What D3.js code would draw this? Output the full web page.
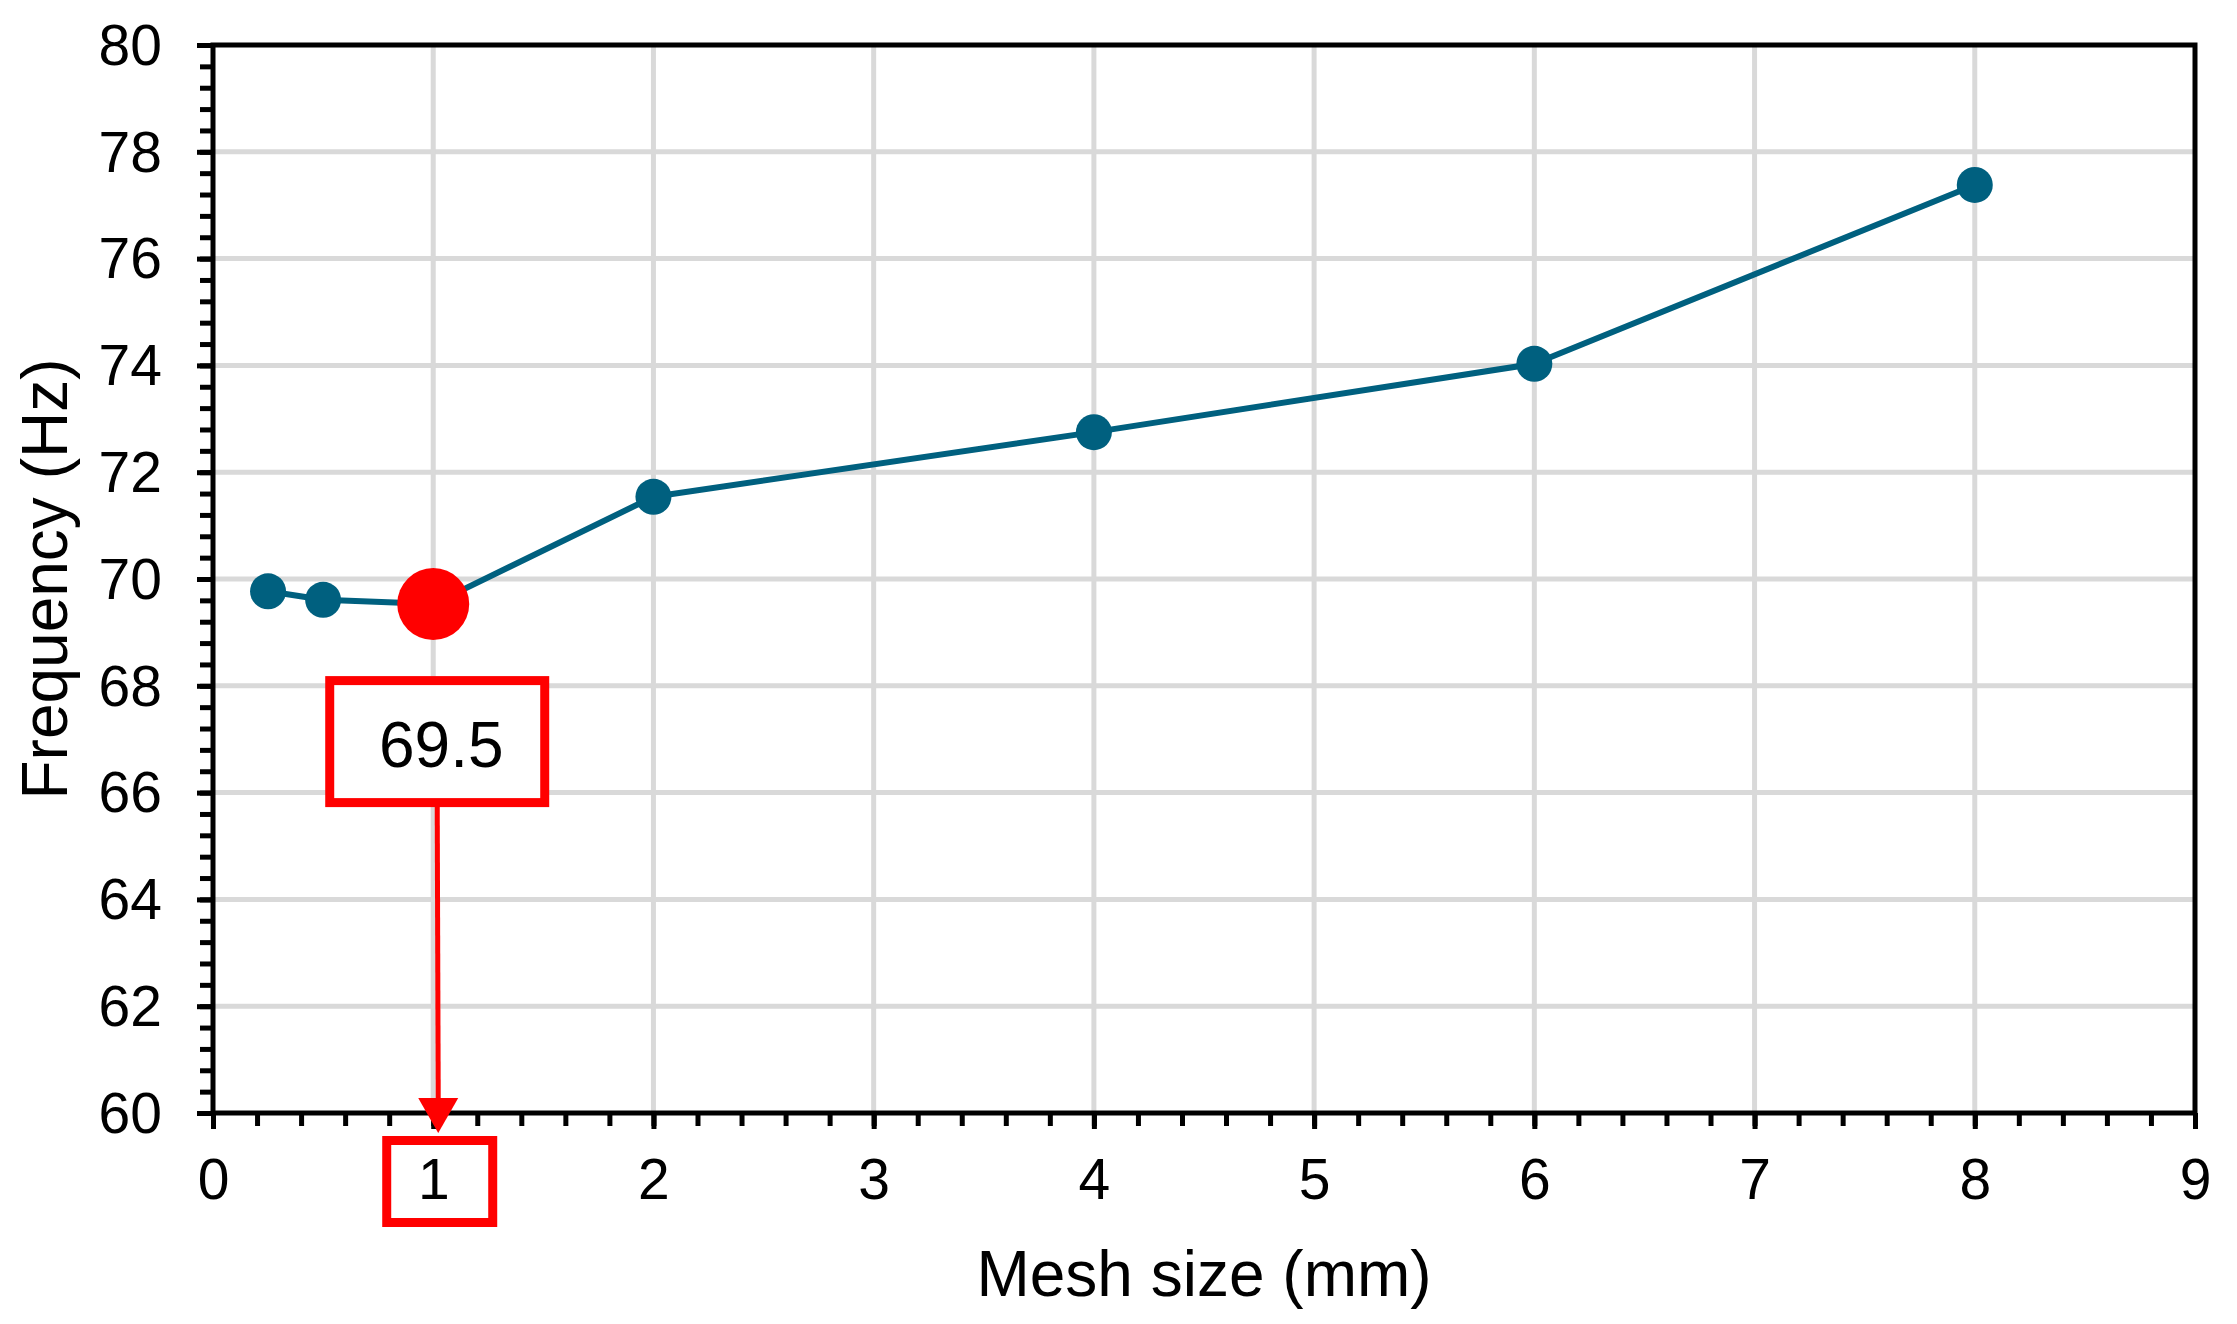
<!DOCTYPE html>
<html><head><meta charset="utf-8">
<script src="https://cdn.jsdelivr.net/npm/d3@7"></script>
<style>
body{margin:0;background:#fff}
text{font-family:"Liberation Sans",Arial,Helvetica,sans-serif;fill:#000}
</style>
</head><body>
<svg id="chart" width="2237" height="1324"></svg>
<script>
// ---- data ----
const meshSizes = [0.25, 0.5, 1, 2, 4, 6, 8];
const frequencies = [69.77, 69.61, 69.53, 71.54, 72.75, 74.03, 77.38];
const highlightIndex = 2;
const highlightLabel = "69.5";
const xTickValues = [0, 1, 2, 3, 4, 5, 6, 7, 8, 9];
const yTickValues = [60, 62, 64, 66, 68, 70, 72, 74, 76, 78, 80];
const xTitle = "Mesh size (mm)";
const yTitle = "Frequency (Hz)";

// ---- layout ----
const svg = d3.select("#chart");
const box = {left: 213, right: 2195, top: 45, bottom: 1113};
const x = d3.scaleLinear().domain([0, 9]).range([box.left, box.right]);
const y = d3.scaleLinear().domain([60, 80]).range([box.bottom, box.top]);
const lineColor = "#00607f";
const red = "#ff0000";

// gridlines
const grid = svg.append("g");
grid.selectAll("line.h").data(yTickValues.filter(v => v > 60 && v < 80)).join("line")
  .attr("x1", box.left).attr("x2", box.right)
  .attr("y1", d => y(d)).attr("y2", d => y(d))
  .attr("stroke", "#d9d9d9").attr("stroke-width", 5);
grid.selectAll("line.v").data(xTickValues.filter(v => v > 0 && v < 9)).join("line")
  .attr("y1", box.top).attr("y2", box.bottom)
  .attr("x1", d => x(d)).attr("x2", d => x(d))
  .attr("stroke", "#d9d9d9").attr("stroke-width", 5);

// minor ticks
const xMinor = d3.range(0, 46).map(i => i * 0.2);
const yMinor = d3.range(0, 51).map(i => 60 + i * 0.4);
const xMinorAxis = svg.append("g").attr("transform", `translate(0,${box.bottom})`)
  .call(d3.axisBottom(x).tickValues(xMinor).tickSize(13).tickFormat(""));
const yMinorAxis = svg.append("g").attr("transform", `translate(${box.left},0)`)
  .call(d3.axisLeft(y).tickValues(yMinor).tickSize(13).tickFormat(""));
[xMinorAxis, yMinorAxis].forEach(g => {
  g.select(".domain").remove();
  g.selectAll(".tick line").attr("stroke", "#000").attr("stroke-width", 5);
});

// major axes
const xAxis = svg.append("g").attr("transform", `translate(0,${box.bottom})`)
  .call(d3.axisBottom(x).tickValues(xTickValues).tickSize(16).tickPadding(30).tickFormat(d3.format("d")));
const yAxis = svg.append("g").attr("transform", `translate(${box.left},0)`)
  .call(d3.axisLeft(y).tickValues(yTickValues).tickSize(16).tickPadding(35).tickFormat(d3.format("d")));
[xAxis, yAxis].forEach(g => {
  g.select(".domain").remove();
  g.selectAll(".tick line").attr("stroke", "#000").attr("stroke-width", 5);
  g.selectAll(".tick text").attr("font-size", 57).attr("fill", "#000")
    .style("font-family", '"Liberation Sans",Arial,sans-serif');
});
yAxis.selectAll(".tick text").attr("dy", "0.34em");

// frame
svg.append("rect")
  .attr("x", box.left).attr("y", box.top)
  .attr("width", box.right - box.left).attr("height", box.bottom - box.top)
  .attr("fill", "none").attr("stroke", "#000").attr("stroke-width", 5);

// series line
const pts = meshSizes.map((m, i) => [m, frequencies[i]]);
svg.append("path")
  .datum(pts)
  .attr("d", d3.line().x(d => x(d[0])).y(d => y(d[1])))
  .attr("fill", "none").attr("stroke", lineColor).attr("stroke-width", 6)
  .attr("stroke-linejoin", "round");
svg.selectAll("circle.pt").data(pts).join("circle")
  .attr("cx", d => x(d[0])).attr("cy", d => y(d[1]))
  .attr("r", (d, i) => i === highlightIndex ? 36 : 18)
  .attr("fill", (d, i) => i === highlightIndex ? red : lineColor);

// annotation
const px = x(meshSizes[highlightIndex]);
const py = y(frequencies[highlightIndex]);
const ann = svg.append("g");
// value label box
ann.append("rect")
  .attr("x", px - 103.5).attr("y", py + 76.5)
  .attr("width", 215).attr("height", 122)
  .attr("fill", "#fff").attr("stroke", red).attr("stroke-width", 9);
ann.append("text")
  .attr("x", px + 8).attr("y", py + 163)
  .attr("text-anchor", "middle").attr("font-size", 64)
  .text(highlightLabel);
// connector
ann.append("line")
  .attr("x1", px + 4).attr("y1", py + 203)
  .attr("x2", px + 5).attr("y2", box.bottom - 15)
  .attr("stroke", red).attr("stroke-width", 5);
ann.append("path")
  .attr("d", `M${px - 15},${box.bottom - 15} L${px + 25},${box.bottom - 15} L${px + 5},${box.bottom + 20} Z`)
  .attr("fill", red);
// tick label box
ann.append("rect")
  .attr("x", px - 46.5).attr("y", box.bottom + 27.5)
  .attr("width", 106).attr("height", 82)
  .attr("fill", "none").attr("stroke", red).attr("stroke-width", 9);

// axis titles
svg.append("text")
  .attr("x", (box.left + box.right) / 2).attr("y", 1296)
  .attr("text-anchor", "middle").attr("font-size", 64)
  .text(xTitle);
svg.append("text")
  .attr("transform", `translate(67,${(box.top + box.bottom) / 2}) rotate(-90)`)
  .attr("text-anchor", "middle").attr("font-size", 64)
  .text(yTitle);
</script>
</body></html>
